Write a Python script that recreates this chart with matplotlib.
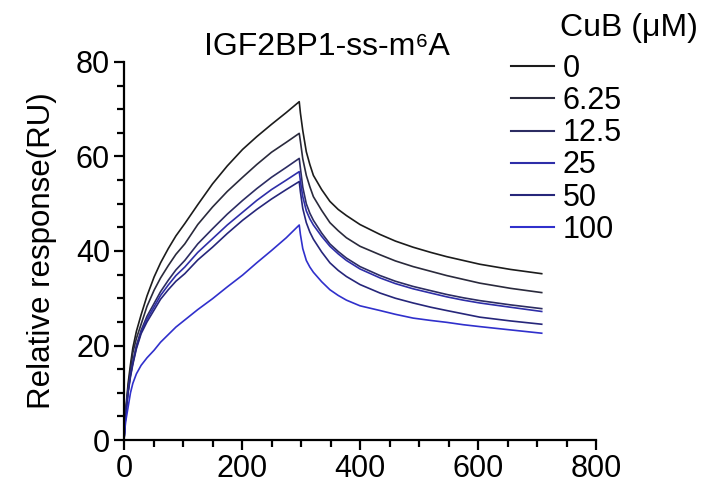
import numpy as np
import matplotlib
matplotlib.use("Agg")
import matplotlib.pyplot as plt
from matplotlib.ticker import MultipleLocator

plt.rcParams['font.family'] = ['Liberation Sans', 'DejaVu Sans']

# time points (s): association up to ~297 s, then dissociation
t_assoc = [0, 1.5, 3, 7, 11, 15, 21, 29, 39, 51, 62, 75, 88, 103, 125, 150, 175, 201, 225, 250, 275, 297]
t_dissoc = [299, 303, 309, 315, 321, 335, 349, 363, 377, 400, 434, 460, 490, 520, 547, 575, 603, 655, 708]

conc_labels = ['0', '6.25', '12.5', '25', '50', '100']
colors = ['#1c1c1c', '#2a2a3c', '#2c2c62', '#2e2ea8', '#26267a', '#3030cc']

assoc = {
    '0':    [0, 3.5, 6.5, 12.0, 16.0, 19.5, 23.0, 26.5, 30.5, 34.5, 37.5, 40.5, 43.2, 45.8, 49.8, 54.2, 58.0, 61.5, 64.2, 66.8, 69.3, 71.6],
    '6.25': [0, 3.3, 6.0, 11.0, 15.0, 18.5, 21.5, 24.5, 28.3, 31.7, 34.3, 36.9, 39.3, 41.5, 45.6, 49.3, 52.6, 55.6, 58.3, 60.9, 63.0, 64.9],
    '12.5': [0, 3.1, 5.7, 10.5, 14.0, 16.5, 20.0, 23.2, 26.2, 28.9, 31.4, 33.8, 36.0, 38.0, 41.5, 44.7, 47.8, 50.7, 53.2, 55.6, 57.7, 59.6],
    '25':   [0, 3.0, 5.5, 10.3, 13.7, 16.3, 19.6, 22.8, 25.6, 28.2, 30.6, 32.8, 34.8, 36.6, 39.7, 42.6, 45.5, 48.2, 50.7, 53.0, 55.0, 56.8],
    '50':   [0, 3.0, 5.4, 10.0, 13.4, 16.0, 19.3, 22.5, 25.0, 27.5, 29.8, 31.8, 33.6, 35.2, 38.1, 40.8, 43.7, 46.5, 48.8, 51.0, 53.0, 54.7],
    '100':  [0, 2.4, 4.0, 7.0, 10.0, 12.0, 14.0, 15.8, 17.4, 19.0, 20.7, 22.3, 23.9, 25.4, 27.6, 29.9, 32.4, 34.9, 37.5, 40.1, 42.8, 45.5],
}
dissoc = {
    '0':    [69.2, 65.5, 61.0, 58.3, 56.0, 53.0, 50.5, 48.8, 47.5, 45.6, 43.5, 42.1, 40.8, 39.7, 38.8, 38.0, 37.2, 36.1, 35.2],
    '6.25': [63.2, 59.5, 56.0, 53.6, 51.5, 48.6, 46.0, 44.3, 42.8, 41.0, 39.2, 37.9, 36.7, 35.7, 34.8, 34.0, 33.2, 32.1, 31.2],
    '12.5': [57.5, 53.5, 50.0, 48.0, 46.5, 43.8, 41.5, 39.9, 38.5, 36.7, 34.8, 33.6, 32.5, 31.6, 30.8, 30.1, 29.5, 28.6, 27.8],
    '25':   [54.8, 51.5, 48.5, 46.8, 45.5, 43.1, 41.0, 39.4, 38.0, 36.2, 34.3, 33.1, 32.0, 31.1, 30.3, 29.6, 29.0, 28.1, 27.2],
    '50':   [52.5, 49.0, 46.0, 44.0, 42.5, 39.8, 37.5, 35.9, 34.6, 32.9, 31.1, 30.0, 29.0, 28.1, 27.4, 26.7, 26.0, 25.2, 24.5],
    '100':  [43.5, 40.5, 38.0, 36.6, 35.5, 33.5, 31.8, 30.6, 29.6, 28.4, 27.4, 26.6, 25.8, 25.3, 24.9, 24.4, 24.0, 23.3, 22.6],
}

fig = plt.figure(figsize=(7.12, 4.99), dpi=100)
ax = fig.add_axes([124/712, 1-440/499, 472/712, 378/499])

t_all = t_assoc + t_dissoc
for lab, col in zip(conc_labels, colors):
    ax.plot(t_all, assoc[lab] + dissoc[lab], color=col, lw=1.2, label=lab)

ax.set_xlim(0, 800)
ax.set_ylim(0, 80)
ax.xaxis.set_major_locator(MultipleLocator(200))
ax.xaxis.set_minor_locator(MultipleLocator(50))
ax.yaxis.set_major_locator(MultipleLocator(20))
ax.yaxis.set_minor_locator(MultipleLocator(5))
for s in ['top', 'right']:
    ax.spines[s].set_visible(False)
for s in ['left', 'bottom']:
    ax.spines[s].set_linewidth(1.6)
ax.tick_params(which='major', length=7, width=1.6, labelsize=22, pad=3)
ax.tick_params(which='minor', length=5, width=1.6)

ax.set_ylabel('Relative response(RU)', fontsize=22.5, labelpad=14)
ax.set_title('IGF2BP1-ss-m\u2076A', fontsize=23, x=0.43, pad=4)

leg = fig.legend(loc='upper left', bbox_to_anchor=(511/712, 1-54/499), frameon=False,
                 fontsize=22, handlelength=1.4, handletextpad=0.3, labelspacing=0.07,
                 borderpad=0, borderaxespad=0)
for h in leg.get_lines():
    h.set_linewidth(1.5)
fig.text(560/712, 1-28/499, 'CuB (\u03bcM)', fontsize=23, va='center', ha='left')

fig.savefig('out.png', dpi=100)
